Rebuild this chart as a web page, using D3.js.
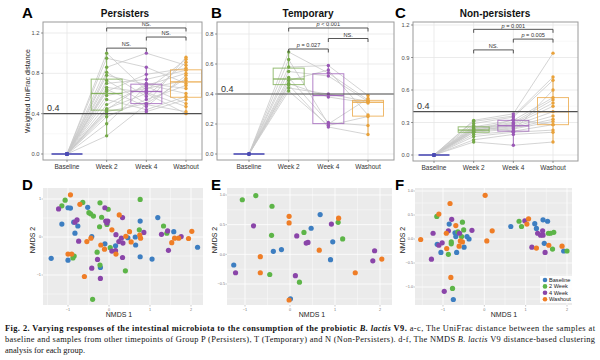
<!DOCTYPE html>
<html><head><meta charset="utf-8">
<script src="https://cdn.jsdelivr.net/npm/d3@7"></script>
<style>body{margin:0;background:#fff}svg{display:block}</style>
</head><body><svg id="c" width="600" height="360"></svg>
<script>
// ---------- DATA ----------
const categories = ["Baseline","Week 2","Week 4","Washout"];

const persistersWeek2   = [1.00,0.95,0.86,0.81,0.78,0.73,0.70,0.66,0.64,0.62,0.58,0.54,0.49,0.45,0.44,0.42,0.40,0.37,0.30,0.18];
const persistersWeek4   = [0.63,0.86,1.00,0.57,0.69,0.50,0.74,0.61,0.47,0.79,0.65,0.44,0.68,0.60,0.70,0.50,0.42,0.54,0.67,0.49];
const persistersWashout = [0.94,0.70,0.88,0.91,0.60,0.96,0.83,0.47,0.78,0.85,0.73,0.57,0.80,0.40,0.65,0.75,0.54,0.68,0.50,0.42];

const temporaryWeek2   = [0.68,0.63,0.58,0.55,0.51,0.49,0.47,0.46,0.44,0.42];
const temporaryWeek4   = [0.54,0.20,0.59,0.52,0.21,0.56,0.38,0.18,0.40,0.19];
const temporaryWashout = [0.36,0.37,0.39,0.35,0.19,0.26,0.34,0.13,0.35,0.25];

const nonPersistersWeek2   = [0.32,0.31,0.29,0.27,0.26,0.25,0.24,0.24,0.23,0.23,0.22,0.21,0.21,0.19,0.17,0.14,0.12];
const nonPersistersWeek4   = [0.38,0.36,0.35,0.22,0.32,0.30,0.29,0.28,0.27,0.26,0.25,0.24,0.33,0.22,0.21,0.19,0.09];
const nonPersistersWashout = [0.94,0.72,0.69,0.60,0.53,0.51,0.48,0.45,0.40,0.36,0.33,0.31,0.28,0.28,0.23,0.21,0.12];

const ticksA = [0,0.4,0.8,1.2], ticksB = [0,0.2,0.4,0.6,0.8], ticksC = [0,0.3,0.6,0.9,1.2];
const thresholdValue = 0.4;

const bracketsA = [
  {from:"Week 2", to:"Week 4",  y:1.05, label:"NS."},
  {from:"Week 4", to:"Washout", y:1.16, label:"NS."},
  {from:"Week 2", to:"Washout", y:1.25, label:"NS."}];
const bracketsB = [
  {from:"Week 2", to:"Week 4",  y:0.70, label:"p = 0.027"},
  {from:"Week 4", to:"Washout", y:0.77, label:"NS."},
  {from:"Week 2", to:"Washout", y:0.84, label:"p < 0.001"}];
const bracketsC = [
  {from:"Week 2", to:"Week 4",  y:0.97, label:"NS."},
  {from:"Week 4", to:"Washout", y:1.07, label:"p = 0.005"},
  {from:"Week 2", to:"Washout", y:1.16, label:"p = 0.001"}];

const nmdsGroups = ["Baseline","2 Week","4 Week","Washout"];
const nmdsXTicks = [-1,0,1,2];

const dBaseline = [[-1.41,-0.56],[-1.15,0.34],[-1.0,0.77],[-0.94,0.76],[-0.83,0.10],[-0.86,0.39],[-0.52,0.78],[-0.76,0.29],[-0.42,0.01],[-0.21,-0.80],[-0.10,-0.18],[0.16,-0.23],[0.46,-0.02],[0.64,0.00],[0.65,-0.21],[0.76,0.42],[0.76,-0.52],[1.05,-0.58],[1.19,0.51],[1.58,0.14],[2.16,-0.27],[-1.0,-0.61]];
const dWeek2 = [[-1.07,0.97],[-1.15,0.82],[-0.64,0.91],[-0.49,0.64],[-0.45,0.61],[-0.38,0.55],[-0.22,0.90],[-0.02,0.73],[-0.18,0.52],[-0.05,0.33],[-0.23,0.27],[0.76,0.99],[0.74,0.19],[1.33,0.29],[1.41,0.10],[0.03,-0.28],[-0.29,-0.40],[-0.22,-0.74],[0.40,-0.89],[-0.40,-1.64],[-0.85,-0.50],[-0.88,-0.55]];
const dWeek4 = [[-1.23,0.74],[-0.83,0.39],[-0.78,0.45],[-0.74,-0.11],[-0.10,0.77],[-0.08,0.42],[-0.03,0.42],[-0.05,0.37],[0.33,0.51],[0.17,0.06],[0.30,-0.03],[0.34,-0.16],[0.24,-0.12],[0.85,0.12],[1.43,0.16],[1.28,0.07],[1.76,0.01],[1.45,-0.35],[0.07,-0.37],[0.16,-0.36],[0.33,-0.54],[-0.28,-0.59],[-0.42,-0.82],[-0.21,-1.09]];
const dWashout = [[-0.94,1.11],[-0.71,0.86],[0.25,0.58],[0.07,0.19],[0.50,0.14],[0.41,0.02],[0.75,0.05],[0.77,-0.03],[0.54,-0.13],[-0.20,-0.21],[-0.54,-0.12],[-0.44,-0.03],[-0.11,-0.32],[0.17,-0.45],[-1.0,-0.45],[-0.91,-0.45],[-0.60,-1.04],[1.53,-0.15],[1.60,-0.03],[1.70,-0.03],[1.94,-0.04],[2.02,0.15]];

const eBaseline = [[0.67,0.67],[0.47,0.44],[0.95,0.21],[-0.19,0.08],[-0.37,0.05],[0.90,-0.09],[-1.25,-0.18],[0.01,-0.75]];
const eWeek2 = [[-1.06,0.92],[-0.76,0.99],[-0.40,0.81],[1.07,0.54],[0.31,0.37],[-0.41,0.32],[1.17,0.26],[-0.45,-0.34],[0.21,-0.47]];
const eWeek4 = [[0.92,0.51],[-0.81,0.48],[0.15,0.31],[0.36,0.19],[0.40,0.20],[1.88,0.06],[1.84,-0.11],[-1.21,-0.31],[0.12,-0.36]];
const eWashout = [[-0.02,0.64],[-0.02,0.53],[1.08,0.61],[0.65,0.07],[2.04,-0.08],[-0.66,-0.04],[-0.66,-0.31],[1.45,-0.31],[-0.02,-0.77]];

const fBaseline = [[-0.85,0.31],[-0.71,0.13],[-0.69,0.05],[-0.42,0.05],[-0.37,0.0],[-1.14,-0.11],[-0.49,-0.17],[-1.05,-0.28],[-0.67,-0.28],[-0.75,-1.26],[0.64,0.26],[1.22,0.32],[1.26,0.22],[1.42,0.40],[1.53,0.37],[1.45,-0.09],[1.92,-0.25]];
const fWeek2 = [[-1.15,0.47],[-0.53,0.35],[-0.50,0.19],[-0.64,0.15],[-0.55,0.05],[-0.80,-0.06],[-0.80,-0.10],[-0.87,-0.32],[-0.77,-1.03],[0.84,0.37],[0.90,0.26],[1.55,0.12],[1.60,0.12],[1.68,0.14],[1.65,-0.21],[2.00,-0.25]];
const fWeek4 = [[-0.79,0.41],[-0.87,0.17],[-0.30,0.18],[-0.60,0.12],[-1.24,0.12],[-1.02,-0.08],[-1.10,-0.13],[-1.28,-0.42],[-0.97,-1.09],[0.98,0.38],[1.29,0.12],[1.36,0.08],[1.42,0.08],[1.41,0.17],[1.15,-0.17],[1.47,-0.28]];
const fWashout = [[0.02,0.91],[-0.83,0.74],[-1.10,0.52],[-0.69,0.28],[-0.92,0.12],[-1.54,-0.01],[-0.53,-0.06],[-0.58,-0.04],[-0.61,-0.15],[-0.91,-0.20],[0.06,-0.04],[0.19,0.17],[-0.81,-0.80],[1.07,0.42],[1.03,0.31],[1.56,-0.13],[1.26,-0.19],[1.88,-0.15]];

// ---------- STYLE ----------
const FONT = "'Liberation Sans', Arial, sans-serif";
const boxColors = {"Baseline":"#4b4bb4","Week 2":"#74a848","Week 4":"#9a58b6","Washout":"#e9a23b"};
const nmdsColors = {"Baseline":"#3d7ec1","2 Week":"#5db548","4 Week":"#8a45a9","Washout":"#ef7d26"};

const svg = d3.select("#c");
svg.append("rect").attr("width",600).attr("height",360).attr("fill","#fff");

// ---------- TOP PANELS ----------
function boxPanel(p){
  const g = svg.append("g");
  const x = d3.scalePoint().domain(categories).range(p.catRange);
  const y = d3.scaleLinear().domain([0, p.ticks[p.ticks.length-1]]).range(p.yRange);
  const {left,right,top,bottom} = p.rect;
  // grid
  const minor = d3.pairs(p.ticks).map(([a,b])=>(a+b)/2);
  g.selectAll(".mn").data(minor).join("line")
    .attr("x1",left).attr("x2",right).attr("y1",d=>y(d)).attr("y2",d=>y(d))
    .attr("stroke","#f3f3f3").attr("stroke-width",0.6);
  g.selectAll(".mj").data(p.ticks).join("line")
    .attr("x1",left).attr("x2",right).attr("y1",d=>y(d)).attr("y2",d=>y(d))
    .attr("stroke","#e6e6e6").attr("stroke-width",0.8);
  g.selectAll(".vg").data(categories).join("line")
    .attr("x1",d=>x(d)).attr("x2",d=>x(d)).attr("y1",top).attr("y2",bottom)
    .attr("stroke","#e6e6e6").attr("stroke-width",0.8);

  const series = {"Baseline":p.w2.map(()=>0),"Week 2":p.w2,"Week 4":p.w4,"Washout":p.wo};
  // subject lines
  const line = d3.line().x(d=>x(d[0])).y(d=>y(d[1]));
  p.w2.forEach((v,i)=>{
    g.append("path").attr("d",line(categories.map(c=>[c,series[c][i]])))
      .attr("fill","none").attr("stroke","#c9c9c9").attr("stroke-width",0.8);
  });
  // boxes
  const hw = 15.5;
  categories.forEach(c=>{
    const vals = series[c].slice().sort(d3.ascending);
    const q1 = d3.quantile(vals,0.25), md = d3.quantile(vals,0.5), q3 = d3.quantile(vals,0.75);
    const iqr = q3-q1;
    const lo = d3.min(vals.filter(v=>v>=q1-1.5*iqr)), hi = d3.max(vals.filter(v=>v<=q3+1.5*iqr));
    const col = boxColors[c];
    const cx = x(c);
    g.append("line").attr("x1",cx).attr("x2",cx).attr("y1",y(hi)).attr("y2",y(q3))
      .attr("stroke",col).attr("stroke-width",0.9);
    g.append("line").attr("x1",cx).attr("x2",cx).attr("y1",y(q1)).attr("y2",y(lo))
      .attr("stroke",col).attr("stroke-width",0.9);
    if (c === "Baseline") {
      g.append("line").attr("x1",cx-hw).attr("x2",cx+hw).attr("y1",y(md)).attr("y2",y(md))
        .attr("stroke",col).attr("stroke-width",1.6);
    } else {
      g.append("rect").attr("x",cx-hw).attr("width",2*hw).attr("y",y(q3)).attr("height",y(q1)-y(q3))
        .attr("fill","none").attr("stroke",col).attr("stroke-opacity",0.75).attr("stroke-width",1);
      g.append("line").attr("x1",cx-hw).attr("x2",cx+hw).attr("y1",y(md)).attr("y2",y(md))
        .attr("stroke",col).attr("stroke-opacity",0.85).attr("stroke-width",1.3);
    }
    g.selectAll(null).data(series[c]).join("circle")
      .attr("cx",cx).attr("cy",d=>y(d)).attr("r",1.7).attr("fill",col);
  });
  // threshold line
  g.append("line").attr("x1",left).attr("x2",right).attr("y1",y(thresholdValue)).attr("y2",y(thresholdValue))
    .attr("stroke","#505050").attr("stroke-width",1.2);
  g.append("text").attr("x",left+4).attr("y",y(thresholdValue)-2.5).text(thresholdValue.toFixed(1))
    .attr("font-family",FONT).attr("font-size",9).attr("fill","#333");
  // brackets
  p.brackets.forEach(b=>{
    const x1 = x(b.from), x2 = x(b.to), yy = y(b.y);
    g.append("path").attr("d",`M${x1},${yy+3.5}V${yy}H${x2}V${yy+3.5}`)
      .attr("fill","none").attr("stroke","#444").attr("stroke-width",0.9);
    const t = g.append("text").attr("x",(x1+x2)/2).attr("y",yy-1.8).attr("text-anchor","middle")
      .attr("font-family",FONT).attr("font-size",5.6).attr("fill","#333");
    if (b.label.startsWith("p ")) {
      t.append("tspan").attr("font-style","italic").text("p");
      t.append("tspan").text(b.label.slice(1));
    } else t.text(b.label);
  });
  // border
  g.append("rect").attr("x",left).attr("y",top).attr("width",right-left).attr("height",bottom-top)
    .attr("fill","none").attr("stroke","#9a9a9a").attr("stroke-width",1);
  // y axis
  p.ticks.forEach(t=>{
    g.append("line").attr("x1",left-2).attr("x2",left).attr("y1",y(t)).attr("y2",y(t)).attr("stroke","#555").attr("stroke-width",0.6);
    g.append("text").attr("x",left-3.5).attr("y",y(t)).attr("dy","0.35em").attr("text-anchor","end")
      .attr("font-family",FONT).attr("font-size",5.8).attr("fill","#4d4d4d").text(t.toFixed(1));
  });
  // x axis
  categories.forEach(c=>{
    g.append("line").attr("x1",x(c)).attr("x2",x(c)).attr("y1",bottom).attr("y2",bottom+2).attr("stroke","#555").attr("stroke-width",0.6);
    g.append("text").attr("x",x(c)).attr("y",bottom+9).attr("text-anchor","middle")
      .attr("font-family",FONT).attr("font-size",6.5).attr("fill","#333").text(c);
  });
  // title & letter
  g.append("text").attr("x",p.titleX).attr("y",17).attr("text-anchor","middle")
    .attr("font-family",FONT).attr("font-weight","bold").attr("font-size",10).attr("fill","#111").text(p.title);
  g.append("text").attr("x",p.letterX).attr("y",18)
    .attr("font-family",FONT).attr("font-weight","bold").attr("font-size",15).attr("fill","#000").text(p.letter);
}

boxPanel({letter:"A",letterX:22,title:"Persisters",titleX:125,rect:{left:43,right:202,top:22,bottom:160},
  catRange:[67,186],yRange:[154,33],ticks:ticksA,w2:persistersWeek2,w4:persistersWeek4,wo:persistersWashout,brackets:bracketsA});
boxPanel({letter:"B",letterX:211,title:"Temporary",titleX:308,rect:{left:217,right:394,top:22,bottom:160},
  catRange:[249,368],yRange:[154,34],ticks:ticksB,w2:temporaryWeek2,w4:temporaryWeek4,wo:temporaryWashout,brackets:bracketsB});
boxPanel({letter:"C",letterX:395,title:"Non-persisters",titleX:495,rect:{left:413,right:578,top:22,bottom:161},
  catRange:[434,553],yRange:[155,25],ticks:ticksC,w2:nonPersistersWeek2,w4:nonPersistersWeek4,wo:nonPersistersWashout,brackets:bracketsC});

svg.append("text").attr("transform","translate(30,91) rotate(-90)").attr("text-anchor","middle")
  .attr("font-family",FONT).attr("font-size",7).attr("fill","#222").text("Weighted UniFrac distance");

// ---------- BOTTOM PANELS ----------
function scatterPanel(p){
  const g = svg.append("g");
  const {left,right,top,bottom} = p.rect;
  const x = d3.scaleLinear().domain([-1,2]).range(p.xRange);
  const y = d3.scaleLinear().domain(p.yDomain).range(p.yRange);
  g.append("rect").attr("x",left).attr("y",top).attr("width",right-left).attr("height",bottom-top).attr("fill","#ebebeb");
  const xInv = [x.invert(left), x.invert(right)], yInv = [y.invert(bottom), y.invert(top)];
  const step = p.yTicks[1]-p.yTicks[0];
  const xMinor = [-1.5,-0.5,0.5,1.5,2.5].filter(v=>v>xInv[0]&&v<xInv[1]);
  const yMinor = d3.range(p.yTicks[0]-step/2, yInv[1], step).filter(v=>v>yInv[0]&&v<yInv[1]);
  g.selectAll(".xm").data(xMinor).join("line").attr("x1",d=>x(d)).attr("x2",d=>x(d)).attr("y1",top).attr("y2",bottom)
    .attr("stroke","#fff").attr("stroke-width",0.4);
  g.selectAll(".ym").data(yMinor).join("line").attr("y1",d=>y(d)).attr("y2",d=>y(d)).attr("x1",left).attr("x2",right)
    .attr("stroke","#fff").attr("stroke-width",0.4);
  g.selectAll(".xM").data(nmdsXTicks).join("line").attr("x1",d=>x(d)).attr("x2",d=>x(d)).attr("y1",top).attr("y2",bottom)
    .attr("stroke","#fff").attr("stroke-width",0.8);
  g.selectAll(".yM").data(p.yTicks).join("line").attr("y1",d=>y(d)).attr("y2",d=>y(d)).attr("x1",left).attr("x2",right)
    .attr("stroke","#fff").attr("stroke-width",0.8);
  nmdsGroups.forEach((grp,i)=>{
    g.selectAll(null).data(p.sets[i]).join("circle")
      .attr("cx",d=>x(d[0])).attr("cy",d=>y(d[1])).attr("r",2.6).attr("fill",nmdsColors[grp]);
  });
  // axes ticks
  nmdsXTicks.forEach(t=>{
    g.append("line").attr("x1",x(t)).attr("x2",x(t)).attr("y1",bottom).attr("y2",bottom+1.5).attr("stroke","#777").attr("stroke-width",0.4);
    g.append("text").attr("x",x(t)).attr("y",bottom+6).attr("text-anchor","middle")
      .attr("font-family",FONT).attr("font-size",3.8).attr("fill","#777").text(d3.format("d")(t));
  });
  p.yTicks.forEach(t=>{
    g.append("line").attr("x1",left-1.5).attr("x2",left).attr("y1",y(t)).attr("y2",y(t)).attr("stroke","#777").attr("stroke-width",0.4);
    g.append("text").attr("x",left-2).attr("y",y(t)).attr("dy","0.35em").attr("text-anchor","end")
      .attr("font-family",FONT).attr("font-size",3.8).attr("fill","#777").text(p.yFmt(t));
  });
  g.append("text").attr("x",p.xTitleX).attr("y",317).attr("text-anchor","middle")
    .attr("font-family",FONT).attr("font-size",7).attr("fill","#222").text("NMDS 1");
  g.append("text").attr("transform",`translate(${p.yTitleX},240) rotate(-90)`).attr("text-anchor","middle")
    .attr("font-family",FONT).attr("font-size",7).attr("fill","#222").text("NMDS 2");
  g.append("text").attr("x",p.letterX).attr("y",190)
    .attr("font-family",FONT).attr("font-weight","bold").attr("font-size",15).attr("fill","#000").text(p.letter);
  return {g,x,y};
}

scatterPanel({letter:"D",letterX:22,rect:{left:43,right:203,top:188,bottom:305},xRange:[68,191],
  yDomain:[-1,1],yRange:[275,199],yTicks:[-1,0,1],yFmt:d3.format("d"),xTitleX:119,yTitleX:35,
  sets:[dBaseline,dWeek2,dWeek4,dWashout]});
scatterPanel({letter:"E",letterX:211,rect:{left:227,right:392,top:188,bottom:305},xRange:[245,380],
  yDomain:[-0.5,1.0],yRange:[284,195],yTicks:[-0.5,0,0.5,1.0],yFmt:d3.format(".1f"),xTitleX:312,yTitleX:217,
  sets:[eBaseline,eWeek2,eWeek4,eWashout]});
const F = scatterPanel({letter:"F",letterX:395,rect:{left:415,right:572,top:188,bottom:305},xRange:[443,567],
  yDomain:[-1,1],yRange:[287,191],yTicks:[-1,-0.5,0,0.5,1.0],yFmt:d3.format(".1f"),xTitleX:504,yTitleX:405,
  sets:[fBaseline,fWeek2,fWeek4,fWashout]});

// legend in F
const lg = svg.append("g").attr("transform","translate(540,276)");
lg.append("rect").attr("width",32).attr("height",27).attr("fill","#fff").attr("opacity",0.9);
nmdsGroups.forEach((grp,i)=>{
  lg.append("circle").attr("cx",5).attr("cy",4+i*6.4).attr("r",2.3).attr("fill",nmdsColors[grp]);
  lg.append("text").attr("x",9).attr("y",4+i*6.4).attr("dy","0.35em")
    .attr("font-family",FONT).attr("font-size",5.6).attr("fill","#222").text(grp);
});

// ---------- CAPTION ----------
const SERIF = "'Liberation Serif', 'Times New Roman', serif";
const captionLines = [
  [["Fig. 2. Varying responses of the intestinal microbiota to the consumption of the probiotic ","b"],["B. lactis","bi"],[" V9.","b"],[" a-c, The UniFrac distance between the samples at",""]],
  [["baseline and samples from other timepoints of Group P (Persisters), T (Temporary) and N (Non-Persisters). d-f, The NMDS ",""],["B. lactis","i"],[" V9 distance-based clustering",""]],
  [["analysis for each group.",""]]
];
captionLines.forEach((ln,i)=>{
  const t = svg.append("text").attr("x",5).attr("y",331+i*11.2)
    .attr("font-family",SERIF).attr("font-size",8.4).attr("fill","#111");
  if (i<2) t.attr("textLength",590).attr("lengthAdjust","spacing");
  ln.forEach(([s,st])=>{
    const ts = t.append("tspan").text(s);
    if (st.includes("b")) ts.attr("font-weight","bold");
    if (st.includes("i")) ts.attr("font-style","italic");
  });
});
</script></body></html>
